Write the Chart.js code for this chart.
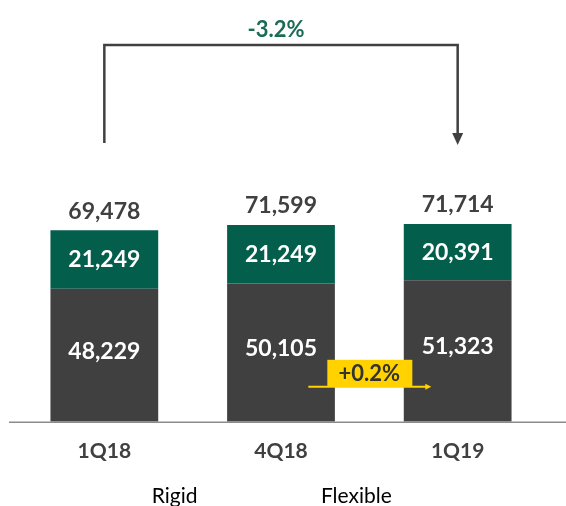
<!DOCTYPE html>
<html>
<head>
<meta charset="utf-8">
<script src="https://cdn.jsdelivr.net/npm/chart.js@4.4.0/dist/chart.umd.min.js"></script>
<style>
html, body { margin: 0; padding: 0; background: #fff; }
</style>
</head>
<body>
<canvas id="canvas" width="566" height="506"></canvas>
<script>
let quarters = ['1Q18', '4Q18', '1Q19'];
let rigid = [48229, 50105, 51323];
let flexible = [21249, 21249, 20391];
let totals = [69478, 71599, 71714];
let totalChange = '-3.2%';
let rigidChange = '+0.2%';

let gray = '#404040';
let green = '#035e4b';
let yellow = '#ffd200';

let fmt = (n) => n.toLocaleString('en-US');

// numbers on and above the bars
let barLabels = {
    id: 'barLabels',
    afterDatasetsDraw(chart) {
        let ctx = chart.ctx;
        let rigidBars = chart.getDatasetMeta(0).data;
        let flexBars = chart.getDatasetMeta(1).data;
        ctx.save();
        ctx.textAlign = 'center';
        ctx.textBaseline = 'middle';
        ctx.font = 'bold 23px Lato';
        rigidBars.forEach((bar, i) => {
            let fb = flexBars[i];
            ctx.fillStyle = '#fff';
            ctx.fillText(fmt(rigid[i]), bar.x, (bar.y + bar.base) / 2 - 4);
            ctx.fillText(fmt(flexible[i]), fb.x, (fb.y + fb.base) / 2);
            ctx.fillStyle = gray;
            ctx.fillText(fmt(totals[i]), fb.x, fb.y - 19);
        });
        ctx.restore();
    }
};

// bracket arrow 1Q18 -> 1Q19 and the yellow tag
let annotations = {
    id: 'annotations',
    afterDraw(chart) {
        let ctx = chart.ctx;
        let area = chart.chartArea;
        let bars = chart.getDatasetMeta(0).data;
        let x0 = bars[0].x, x1 = bars[1].x, x2 = bars[2].x;
        let top = area.top + 37;

        ctx.save();
        // axis line
        ctx.strokeStyle = '#8c8c8c';
        ctx.lineWidth = 1.5;
        ctx.beginPath();
        ctx.moveTo(9, area.bottom + 0.5);
        ctx.lineTo(chart.width, area.bottom + 0.5);
        ctx.stroke();

        ctx.strokeStyle = gray;
        ctx.fillStyle = gray;
        ctx.lineWidth = 2.5;
        ctx.beginPath();
        ctx.moveTo(x0, top + 98);
        ctx.lineTo(x0, top);
        ctx.lineTo(x2, top);
        ctx.lineTo(x2, top + 89);
        ctx.stroke();
        ctx.beginPath();
        ctx.moveTo(x2 - 5.5, top + 88);
        ctx.lineTo(x2 + 5.5, top + 88);
        ctx.lineTo(x2, top + 100);
        ctx.closePath();
        ctx.fill();

        ctx.fillStyle = '#1c6b57';
        ctx.font = 'bold 22px Lato';
        ctx.textAlign = 'center';
        ctx.textBaseline = 'middle';
        ctx.fillText(totalChange, (x0 + x2) / 2 - 5, top - 15);

        // yellow +0.2% tag
        let mx = (x1 + x2) / 2;
        let by = area.bottom - 35;
        ctx.fillStyle = yellow;
        ctx.fillRect(mx - 42, by - 27, 85, 27);
        ctx.strokeStyle = yellow;
        ctx.lineWidth = 2;
        ctx.beginPath();
        ctx.moveTo(mx - 61, by);
        ctx.lineTo(mx + 58, by);
        ctx.stroke();
        ctx.beginPath();
        ctx.moveTo(mx + 56, by - 3);
        ctx.lineTo(mx + 62, by);
        ctx.lineTo(mx + 56, by + 3);
        ctx.closePath();
        ctx.fill();
        ctx.fillStyle = '#333';
        ctx.fillText(rigidChange, mx, by - 13);
        ctx.restore();
    }
};

// move the legend under the chart where the original has it
let legendNudge = {
    id: 'legendNudge',
    afterLayout(chart) {
        let lg = chart.legend;
        lg.left -= 69;
        lg.right -= 69;
        lg.top += 9;
        lg.bottom += 9;
    }
};

let ctx = document.getElementById('canvas').getContext('2d');
let chart = new Chart(ctx, {
    type: 'bar',
    data: {
        labels: quarters,
        datasets: [{
            label: 'Rigid',
            data: rigid,
            backgroundColor: gray,
        }, {
            label: 'Flexible',
            data: flexible,
            backgroundColor: green,
        }],
    },
    options: {
        responsive: false,
        animation: false,
        barPercentage: 0.61,
        categoryPercentage: 1,
        layout: { padding: { left: 16, right: 20, top: 8, bottom: -2 } },
        scales: {
            x: {
                stacked: true,
                grid: { display: false },
                border: { display: false },
                ticks: {
                    color: gray,
                    padding: 9,
                    font: { family: 'Lato', size: 21, weight: 'bold' },
                },
            },
            y: {
                stacked: true,
                display: false,
                min: 0,
                max: 150000,
            },
        },
        plugins: {
            tooltip: { enabled: false },
            legend: {
                position: 'bottom',
                labels: {
                    color: '#111',
                    font: { family: 'Lato', size: 21 },
                    boxWidth: 109,
                    padding: 4,
                    generateLabels: (c) => c.data.datasets.map((ds, i) => ({
                        text: ds.label,
                        fillStyle: 'rgba(0,0,0,0)',
                        strokeStyle: 'rgba(0,0,0,0)',
                        lineWidth: 0,
                        hidden: false,
                        datasetIndex: i,
                    })),
                },
            },
        },
    },
    plugins: [barLabels, annotations, legendNudge],
});
</script>
</body>
</html>
